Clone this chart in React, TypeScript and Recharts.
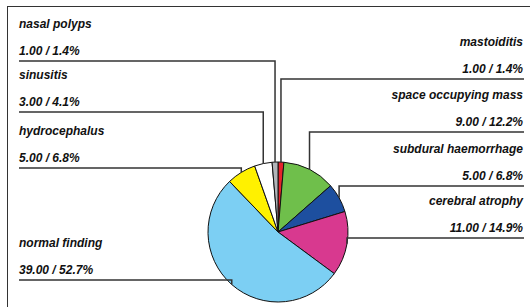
import { PieChart, Pie, Cell } from "recharts";

// findings, clockwise from 12 o'clock
const findings = [
  "mastoiditis",
  "space occupying mass",
  "subdural haemorrhage",
  "cerebral atrophy",
  "normal finding",
  "hydrocephalus",
  "sinusitis",
  "nasal polyps",
];
const counts = [1, 9, 5, 11, 39, 5, 3, 1];
const sliceColors = [
  "#e5232b",
  "#6fbf4b",
  "#1d4f9f",
  "#d8398f",
  "#7ccff3",
  "#fff100",
  "#ffffff",
  "#b1b5b9",
];

const data = findings.map((name, i) => ({ name, value: counts[i] }));

// label layout: which side and the y of the underline row
const labelSide = ["right", "right", "right", "right", "left", "left", "left", "left"];
const labelRowY = [79, 132, 186, 238, 280, 168, 112, 61];

const LEFT_X = 19;
const RIGHT_X = 524;
const RAD = Math.PI / 180;

const textStyle = {
  fontFamily: "'Liberation Sans', Arial, sans-serif",
  fontSize: 12,
  fontWeight: "bold",
  fontStyle: "italic",
  fill: "#111",
};

const renderLabel = (props) => {
  const { cx, cy, midAngle, outerRadius, index, name, value, percent } = props;
  const px = cx + outerRadius * Math.cos(-midAngle * RAD);
  const py = cy + outerRadius * Math.sin(-midAngle * RAD);
  const rowY = labelRowY[index];
  const left = labelSide[index] === "left";
  const edge = left ? LEFT_X : RIGHT_X;
  const tx = left ? LEFT_X : RIGHT_X - 1;
  const anchor = left ? "start" : "end";
  return (
    <g key={`lbl-${index}`}>
      <path
        d={`M${px},${py} V${rowY} H${edge}`}
        fill="none"
        stroke="#333"
        strokeWidth={1.5}
      />
      <text x={tx} y={rowY - 33} textAnchor={anchor} style={textStyle}>
        {name}
      </text>
      <text x={tx} y={rowY - 6} textAnchor={anchor} style={textStyle}>
        {`${value.toFixed(2)} / ${(percent * 100).toFixed(1)}%`}
      </text>
    </g>
  );
};

export default function App() {
  return (
    <div style={{ position: "relative", width: 530, height: 307, background: "#fff" }}>
      <style>{"body{margin:0}"}</style>
      <div
        style={{
          position: "absolute",
          left: 7,
          top: 6,
          width: 530,
          height: 310,
          borderTop: "1.5px solid #333",
          borderLeft: "1.5px solid #333",
        }}
      />
      <PieChart width={530} height={307} style={{ position: "absolute", left: 0, top: 0 }}>
        <Pie
          data={data}
          dataKey="value"
          nameKey="name"
          cx={273}
          cy={227}
          outerRadius={70}
          startAngle={90}
          endAngle={-270}
          stroke="#111"
          strokeWidth={1}
          label={renderLabel}
          labelLine={false}
          isAnimationActive={false}
        >
          {data.map((d, i) => (
            <Cell key={d.name} fill={sliceColors[i]} />
          ))}
        </Pie>
      </PieChart>
    </div>
  );
}
